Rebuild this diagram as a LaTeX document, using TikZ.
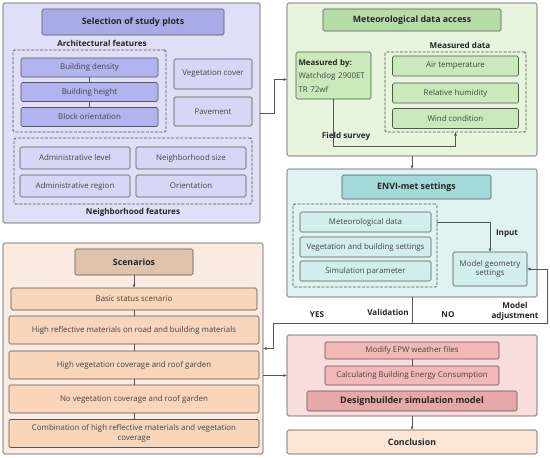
\documentclass[tikz,border=0pt]{standalone}
\usepackage{fontspec}
\setmainfont{Open Sans}
\usepackage{xcolor}
\usetikzlibrary{positioning, arrows.meta}

% panel colours
\definecolor{selfill}{HTML}{DFE0F7}
\definecolor{seltitle}{HTML}{A9ABE8}
\definecolor{selitem}{HTML}{B2B4EF}
\definecolor{sellight}{HTML}{D6D7F6}
\definecolor{metfill}{HTML}{E6F5DC}
\definecolor{mettitle}{HTML}{B6DCA8}
\definecolor{metitem}{HTML}{CAEABB}
\definecolor{envfill}{HTML}{E0F3F3}
\definecolor{envtitle}{HTML}{A3D9D8}
\definecolor{envitem}{HTML}{D3EEEE}
\definecolor{scnfill}{HTML}{FBEBE0}
\definecolor{scntitle}{HTML}{DFC3AD}
\definecolor{scnitem}{HTML}{F9D5BA}
\definecolor{dbfill}{HTML}{FADDDD}
\definecolor{dbitem}{HTML}{F3B8B8}
\definecolor{dbmain}{HTML}{E6A8A8}
\definecolor{concfill}{HTML}{FBE6D6}
\definecolor{edge}{HTML}{555555}
\definecolor{itemtext}{HTML}{444444}

\begin{document}
\begin{tikzpicture}[x=1pt, y=-1pt, inner sep=0pt, outer sep=0pt,
    panel/.style={draw=edge, line width=0.6pt, rounded corners=1.5pt},
    titlebox/.style={draw=edge, line width=0.6pt, rounded corners=1.5pt, font=\fontsize{8.8}{10}\selectfont\bfseries, text=black!85},
    itembox/.style={draw=edge, line width=0.6pt, rounded corners=1.5pt, font=\fontsize{7.9}{9.5}\selectfont, text=itemtext, align=center},
    group/.style={draw=edge, line width=0.8pt, dash pattern=on 3pt off 1.5pt, rounded corners=1.5pt},
    tag/.style={font=\fontsize{8.1}{9}\selectfont\bfseries, text=black!85, align=center},
    conn/.style={draw=edge, line width=0.6pt},
    arr/.style={conn, -{Latex[length=3.5pt, width=3pt]}}]

    \useasboundingbox (0,0) rectangle (550,458);

    % Selection of study plots - lavender panel
    \node[panel, fill=selfill, minimum width=257pt, minimum height=220pt] (sel) at (131.5,113) {};
    \node[titlebox, fill=seltitle, minimum width=182pt, minimum height=26pt] (sel-title) at (133,22) {Selection of study plots};
    \node[tag] (arch-tag) at (102,43) {Architectural features};
    \node[group, minimum width=153pt, minimum height=82pt] (arch) at (89.5,91) {};
    \foreach \t/\y [count=\i] in {Building density/67.5, Building height/92, Block orientation/117}
        \node[itembox, fill=selitem, minimum width=137pt, minimum height=19pt] (A-\i) at (89.5,\y) {\t};
    \draw[conn] (A-1) -- (A-2) -- (A-3);
    \node[itembox, fill=sellight, minimum width=78pt, minimum height=30pt] (veg) at (213,74) {Vegetation cover};
    \node[itembox, fill=sellight, minimum width=78pt, minimum height=29pt] (pav) at (213,111.5) {Pavement};
    \node[group, minimum width=238pt, minimum height=66pt] (neigh) at (133,171) {};
    \foreach \t/\x/\y [count=\i] in {Administrative level/75/158, Neighborhood size/191/158, Administrative region/75/186, Orientation/191/186}
        \node[itembox, fill=sellight, minimum width=110pt, minimum height=22pt] (N-\i) at (\x,\y) {\t};
    \node[tag] (neigh-tag) at (133,212) {Neighborhood features};

    % Meteorological data access - green panel
    \node[panel, fill=metfill, minimum width=250pt, minimum height=153pt] (met) at (412,79.5) {};
    \node[titlebox, fill=mettitle, minimum width=178pt, minimum height=22pt] (met-title) at (412,20) {Meteorological data access};
    \node[tag] (mdata-tag) at (460,45) {Measured data};
    \node[group, minimum width=141pt, minimum height=80pt] (mdata) at (455.5,92) {};
    \foreach \t/\y [count=\i] in {Air temperature/66, Relative humidity/93, Wind condition/118.5}
        \node[itembox, fill=metitem, minimum width=126pt, minimum height=20pt] (M-\i) at (455.5,\y) {\t};
    \node[itembox, fill=metitem, minimum width=75pt, minimum height=47pt, align=left, text width=70pt, font=\fontsize{7.9}{13.5}\selectfont] (mby) at (333.5,75.5)
        {\textbf{\color{black!85}Measured by:}\\Watchdog 2900ET\\TR 72wf};
    \draw[arr] (mby.south) -- ++(0,47) -| (mdata.south);
    \node[tag] (field-tag) at (346,136) {Field survey};

    % ENVI-met settings - teal panel
    \node[panel, fill=envfill, minimum width=250pt, minimum height=128pt] (envi) at (412,233) {};
    \node[titlebox, fill=envtitle, minimum width=149pt, minimum height=24pt] (envi-title) at (416.5,187) {ENVI-met settings};
    \node[group, minimum width=144pt, minimum height=83pt] (eset) at (365,245.5) {};
    \foreach \t/\y [count=\i] in {Meteorological data/222, Vegetation and building settings/247, Simulation parameter/271}
        \node[itembox, fill=envitem, minimum width=131pt, minimum height=20pt] (E-\i) at (365.5,\y) {\t};
    \node[itembox, fill=envitem, minimum width=74pt, minimum height=34pt] (geo) at (490,269) {Model geometry\\settings};
    \draw[arr] (eset.east |- E-1) -| (geo.north);
    \node[tag] (input-tag) at (507,234) {Input};

    % Scenarios - peach panel
    \node[panel, fill=scnfill, minimum width=260pt, minimum height=211pt] (scn) at (133,348.5) {};
    \node[titlebox, fill=scntitle, minimum width=118pt, minimum height=26pt] (scn-title) at (134,262) {Scenarios};
    \node[itembox, fill=scnitem, minimum width=246pt, minimum height=22pt] (S-0) at (134,299) {Basic status scenario};
    \foreach \t/\y [count=\i] in {High reflective materials on road and building materials/330,
                                  High vegetation coverage and roof garden/365,
                                  No vegetation coverage and roof garden/399,
                                  {Combination of high reflective materials and vegetation\\coverage}/433.5}
        \node[itembox, fill=scnitem, minimum width=250pt, minimum height=28pt] (S-\i) at (134,\y) {\t};
    \draw[arr] (scn-title) -- (S-0);
    \draw[conn] (S-0) -- (S-1) -- (S-2) -- (S-3) -- (S-4);

    % Designbuilder - pink panel
    \node[panel, fill=dbfill, minimum width=250pt, minimum height=81pt] (db) at (412,375.5) {};
    \node[itembox, fill=dbitem, minimum width=174pt, minimum height=17pt] (epw) at (412,350.5) {Modify EPW weather files};
    \node[itembox, fill=dbitem, minimum width=174pt, minimum height=19pt] (calc) at (412,375.5) {Calculating Building Energy Consumption};
    \node[titlebox, fill=dbmain, minimum width=210pt, minimum height=20pt, font=\fontsize{9}{10}\selectfont\bfseries] (dbm) at (412,401) {Designbuilder simulation model};
    \draw[conn] (epw) -- (calc);

    % Conclusion
    \node[titlebox, fill=concfill, minimum width=250pt, minimum height=24pt] (conc) at (412,442) {Conclusion};

    % Connections between panels
    \draw[arr] (sel.east) -- ++(14,0) |- (met.west);
    \draw[arr] (met.south) -- (envi.north);
    \coordinate (val) at (412,323);
    \coordinate (yes-c) at (273,323);
    \coordinate (no-c) at (547,323);
    \draw[conn] (envi.south) -- (val);
    \draw[arr] (val) -- (yes-c) |- (scn.east);
    \draw[arr] (val) -- (no-c) |- (geo.east);
    \draw[arr] (scn.east |- db.west) -- (db.west);
    \draw[arr] (db.south) -- (conc.north);

    % Validation labels
    \node[tag] at (317,315) {YES};
    \node[tag] at (388,312) {Validation};
    \node[tag] at (448,315) {NO};
    \node[tag, font=\fontsize{8.1}{10}\selectfont\bfseries] at (515,311) {Model\\adjustment};

\end{tikzpicture}
\end{document}
